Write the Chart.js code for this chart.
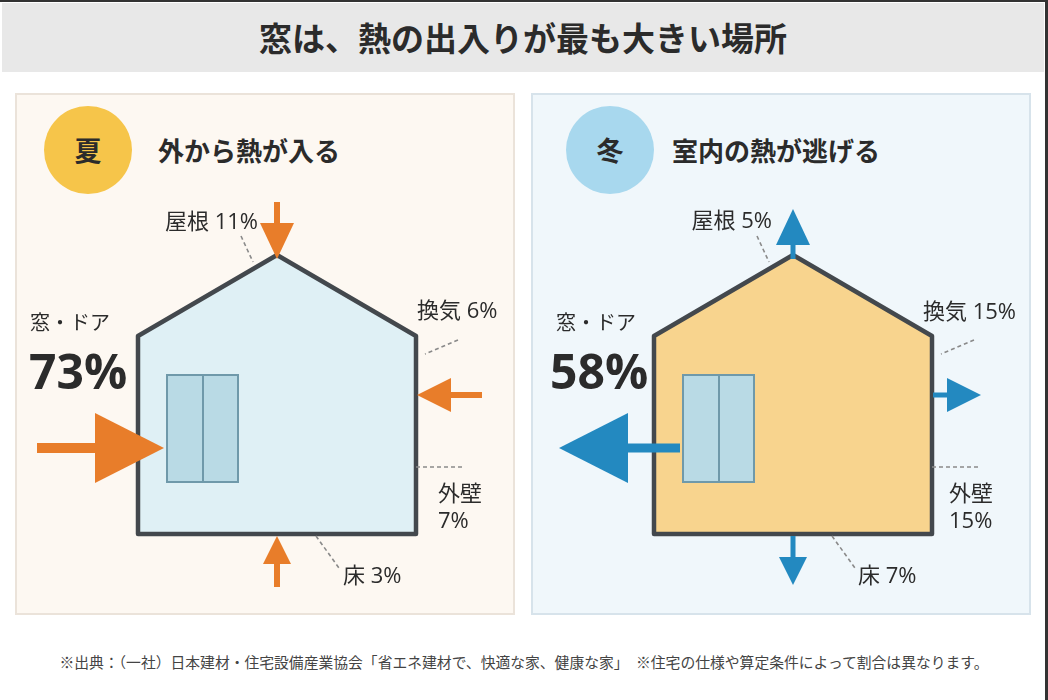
<!DOCTYPE html>
<html lang="ja">
<head>
<meta charset="utf-8">
<script src="https://cdn.jsdelivr.net/npm/chart.js@4.4.1/dist/chart.umd.min.js"></script>
<style>
  body { margin: 0; width: 1048px; height: 700px; background: #fff; position: relative; overflow: hidden;
         font-family: "Noto Sans CJK JP", "Noto Sans", sans-serif; color: #2b2b2b; }
  .frame-top { position: absolute; left: 0; top: 0; width: 1048px; height: 2px; background: #333; }
  .frame-right { position: absolute; left: 1045px; top: 0; width: 3px; height: 700px; background: #333; }
  .title { position: absolute; left: 2px; top: 3px; width: 1042px; height: 69px; background: #e8e8e8;
           font-size: 33px; font-weight: bold; line-height: 69px; text-align: center; }
  .panel { position: absolute; top: 93px; width: 500px; height: 522px; box-sizing: border-box; border: 2px solid; }
  .summer { left: 15px; background: #fdf8f2; border-color: #ebe3da; }
  .winter { left: 531px; background: #f0f7fb; border-color: #d7e3eb; }
  .badge { position: absolute; top: 106px; width: 88px; height: 88px; border-radius: 50%;
           font-size: 27px; font-weight: bold; line-height: 88px; text-align: center; }
  .heading { position: absolute; top: 132px; font-size: 26px; font-weight: bold; line-height: 36px; }
  .chart-box { position: absolute; top: 93px; width: 500px; height: 522px; }
  .note { position: absolute; left: 0; top: 651px; width: 1048px; text-align: center;
          font-size: 14.8px; color: #444; line-height: 22px; }
</style>
</head>
<body>
<div class="frame-top"></div>
<div class="frame-right"></div>
<div class="title">窓は、熱の出入りが最も大きい場所</div>

<div class="panel summer"></div>
<div class="panel winter"></div>

<div class="badge" style="left:44px;background:#f6c54a;">夏</div>
<div class="heading" style="left:158px;">外から熱が入る</div>
<div class="badge" style="left:566px;background:#a8d8ee;">冬</div>
<div class="heading" style="left:672px;">室内の熱が逃げる</div>

<div class="chart-box" style="left:15px;"><canvas id="summerChart" width="500" height="522"></canvas></div>
<div class="chart-box" style="left:531px;"><canvas id="winterChart" width="500" height="522"></canvas></div>

<div class="note">※出典：（一社）日本建材・住宅設備産業協会「省エネ建材で、快適な家、健康な家」　※住宅の仕様や算定条件によって割合は異なります。</div>

<script>
// 部位と熱の出入りの割合（%）
const parts = ["窓・ドア", "屋根", "換気", "外壁", "床"];
const summerValues = [73, 11, 6, 7, 3];
const winterValues = [58, 5, 15, 15, 7];

// 家の形（パネル内の座標）
const house = [[123, 243], [262, 162], [401, 243], [401, 441], [123, 441], [123, 243]];
const windowBox = { x1: 152, x2: 223, y1: 282, y2: 389, mid: 188 };

// 矢印の位置と大きさ（外壁は矢印なし）
const arrowSpec = {
    "窓・ドア": { anchor: [149, 355], dir: [-1, 0], len: { summer: 127, winter: 121 }, head: 69, half: 35, shaft: { summer: 10, winter: 9 } },
    "屋根": { anchor: [262, 166], dir: [0, -1], len: { summer: 57, winter: 50 }, head: 36, half: 17, shaft: { summer: 6, winter: 5 } },
    "換気": { anchor: [402, 302], dir: [1, 0], len: { summer: 65, winter: 48 }, head: 34, half: 17, shaft: { summer: 6, winter: 5 } },
    "床": { anchor: [262, 443], dir: [0, 1], len: { summer: 51, winter: 49 }, head: 28, half: 14, shaft: { summer: 6, winter: 5 } }
};

// 引き出し線
const leaders = {
    "屋根": [[226, 143], [238, 169]],
    "換気": [[443, 247], [410, 261]],
    "外壁": [[401, 374], [447, 374]],
    "床": [[301, 443], [324, 475]]
};

// ラベル位置
const labelPos = {
    summer: { "窓・ドア": [15, 229, 14, 282], "屋根": [243, 130], "換気": [402, 219], "外壁": [423, 402, 429], "床": [328, 484] },
    winter: { "窓・ドア": [25, 229, 19, 282], "屋根": [241, 129], "換気": [392, 220], "外壁": [418, 402, 429], "床": [327, 484] }
};

const houseDrawing = {
    id: "houseDrawing",
    beforeDatasetsDraw(chart, args, opts) {
        const ctx = chart.ctx;
        const xs = chart.scales.x, ys = chart.scales.y;
        const px = p => [xs.getPixelForValue(p[0]), ys.getPixelForValue(p[1])];

        ctx.save();
        ctx.beginPath();
        house.forEach((p, i) => {
            const [a, b] = px(p);
            if (i === 0) ctx.moveTo(a, b); else ctx.lineTo(a, b);
        });
        ctx.closePath();
        ctx.fillStyle = opts.fill;
        ctx.fill();

        // 窓
        const [wx1, wy1] = px([windowBox.x1, windowBox.y1]);
        const [wx2, wy2] = px([windowBox.x2, windowBox.y2]);
        const [mx] = px([windowBox.mid, 0]);
        ctx.fillStyle = "#b9dae5";
        ctx.fillRect(wx1, wy1, wx2 - wx1, wy2 - wy1);
        ctx.strokeStyle = "#6f99aa";
        ctx.lineWidth = 2;
        ctx.strokeRect(wx1, wy1, wx2 - wx1, wy2 - wy1);
        ctx.beginPath();
        ctx.moveTo(mx, wy1);
        ctx.lineTo(mx, wy2);
        ctx.stroke();

        // 家の輪郭
        ctx.beginPath();
        house.forEach((p, i) => {
            const [a, b] = px(p);
            if (i === 0) ctx.moveTo(a, b); else ctx.lineTo(a, b);
        });
        ctx.closePath();
        ctx.strokeStyle = "#43484d";
        ctx.lineWidth = 4.5;
        ctx.lineJoin = "round";
        ctx.stroke();
        ctx.restore();
    },
    afterDatasetsDraw(chart, args, opts) {
        const ctx = chart.ctx;
        const xs = chart.scales.x, ys = chart.scales.y;
        const px = p => [xs.getPixelForValue(p[0]), ys.getPixelForValue(p[1])];

        // 矢印の先端
        ctx.save();
        chart.data.datasets.forEach(ds => {
            if (!ds.arrowHead) return;
            const h = ds.arrowHead;
            const nx = -h.dir[1], ny = h.dir[0];
            const base = [h.tip[0] - h.dir[0] * h.len, h.tip[1] - h.dir[1] * h.len];
            const t = px(h.tip);
            const c1 = px([base[0] + nx * h.half, base[1] + ny * h.half]);
            const c2 = px([base[0] - nx * h.half, base[1] - ny * h.half]);
            ctx.beginPath();
            ctx.moveTo(t[0], t[1]);
            ctx.lineTo(c1[0], c1[1]);
            ctx.lineTo(c2[0], c2[1]);
            ctx.closePath();
            ctx.fillStyle = ds.borderColor;
            ctx.fill();
        });

        // ラベル
        const pos = labelPos[opts.season];
        ctx.fillStyle = "#2b2b2b";
        ctx.textBaseline = "middle";
        parts.forEach((name, i) => {
            const v = opts.values[i] + "%";
            const p = pos[name];
            if (name === "窓・ドア") {
                ctx.textAlign = "left";
                ctx.font = '20px "Noto Sans CJK JP"';
                ctx.fillText(name, ...px([p[0], p[1]]));
                ctx.font = 'bold 48px "Open Sans", "Noto Sans CJK JP"';
                ctx.fillText(v, ...px([p[2], p[3]]));
            } else if (name === "外壁") {
                ctx.textAlign = "left";
                ctx.font = '22px "Open Sans", "Noto Sans CJK JP"';
                ctx.fillText(name, ...px([p[0], p[1]]));
                ctx.fillText(v, ...px([p[0], p[2]]));
            } else {
                ctx.textAlign = name === "屋根" ? "right" : "left";
                ctx.font = '22px "Open Sans", "Noto Sans CJK JP"';
                ctx.fillText(name + " " + v, ...px(p));
            }
        });
        ctx.restore();
    }
};

function buildChart(canvasId, season, values, houseFill, arrowColor) {
    const datasets = [];

    // 引き出し線
    Object.keys(leaders).forEach(name => {
        datasets.push({
            data: leaders[name].map(p => ({ x: p[0], y: p[1] })),
            borderColor: "#8a8a8a",
            borderWidth: 1.6,
            borderDash: [4, 3],
            pointRadius: 0
        });
    });

    // 矢印（夏は外から内へ、冬は内から外へ）
    parts.forEach(name => {
        const s = arrowSpec[name];
        if (!s) return;
        const len = s.len[season];
        const outer = [s.anchor[0] + s.dir[0] * len, s.anchor[1] + s.dir[1] * len];
        const tail = season === "summer" ? outer : s.anchor;
        const tip = season === "summer" ? s.anchor : outer;
        const d = season === "summer" ? [-s.dir[0], -s.dir[1]] : s.dir;
        const neck = [tip[0] - d[0] * (s.head - 2), tip[1] - d[1] * (s.head - 2)];
        datasets.push({
            data: [{ x: tail[0], y: tail[1] }, { x: neck[0], y: neck[1] }],
            borderColor: arrowColor,
            borderWidth: s.shaft[season],
            borderCapStyle: "butt",
            pointRadius: 0,
            arrowHead: { tip: tip, dir: d, len: s.head, half: s.half }
        });
    });

    return new Chart(document.getElementById(canvasId), {
        type: "line",
        data: { datasets: datasets },
        options: {
            responsive: false,
            animation: false,
            layout: { padding: 0 },
            plugins: {
                legend: { display: false },
                tooltip: { enabled: false },
                houseDrawing: { season: season, values: values, fill: houseFill }
            },
            scales: {
                x: { type: "linear", min: 0, max: 500, display: false },
                y: { type: "linear", min: 0, max: 522, reverse: true, display: false }
            }
        },
        plugins: [houseDrawing]
    });
}

buildChart("summerChart", "summer", summerValues, "#dff0f5", "#e87d2a");
buildChart("winterChart", "winter", winterValues, "#f8d48e", "#2389c0");
</script>
</body>
</html>
